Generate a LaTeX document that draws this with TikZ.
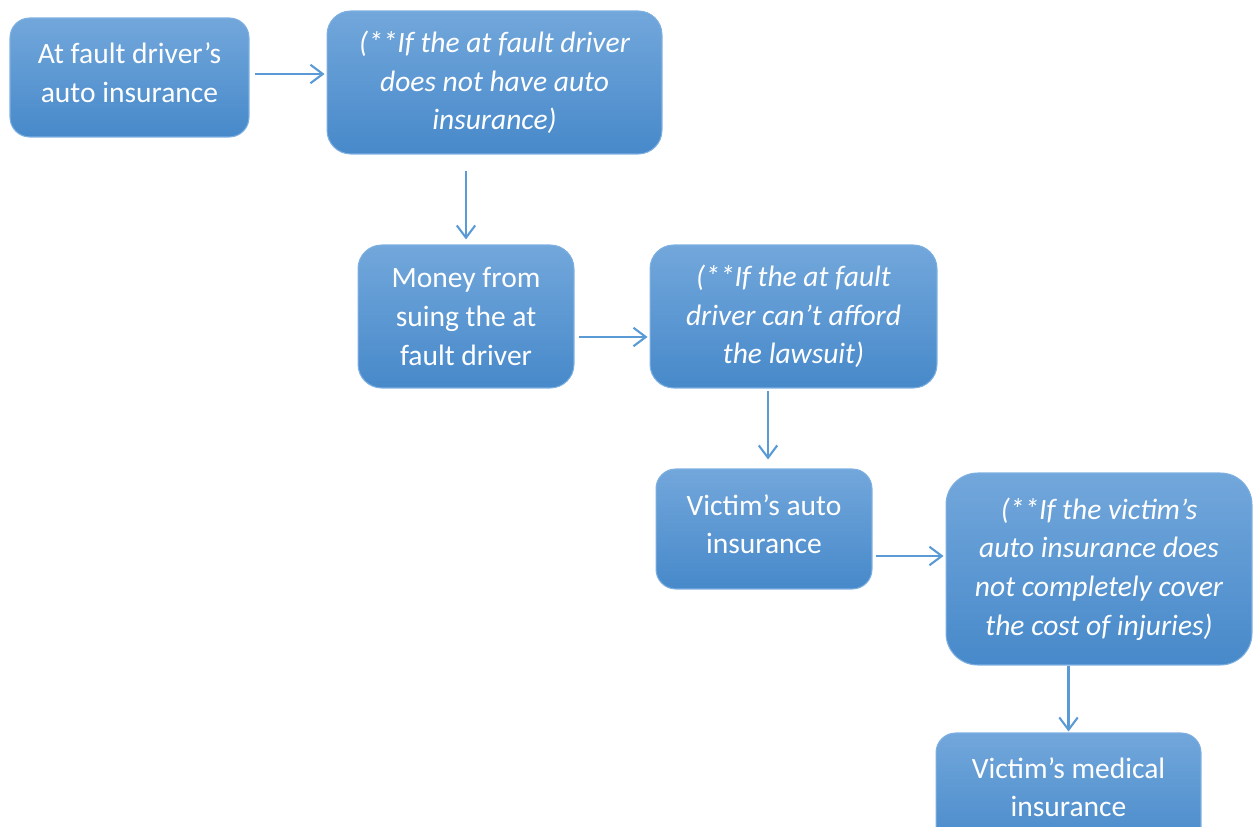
\documentclass[tikz,border=0pt]{standalone}
\usepackage{fontspec}
\setmainfont{Carlito}
\usetikzlibrary{arrows.meta}
\definecolor{boxtop}{RGB}{114,167,219}
\definecolor{boxmid}{RGB}{84,151,215}
\definecolor{boxbot}{RGB}{71,137,202}
\definecolor{boxedge}{RGB}{125,175,224}
\definecolor{arrowblue}{RGB}{91,155,213}
\begin{document}
\begin{tikzpicture}[x=0.02cm,y=-0.02cm,
	box/.style={draw=boxedge,line width=0.6pt,rounded corners=11.2pt,top color=boxtop,middle color=boxmid,bottom color=boxbot,text=white,align=center,inner sep=0pt,font=\fontsize{16.8pt}{22pt}\selectfont},
	ifbox/.style={box,font=\fontsize{16.8pt}{22pt}\selectfont\itshape},
	twoline/.style={text depth=0.2cm},
	arr/.style={draw=arrowblue,line width=1.2pt,-{Straight Barb[length=7pt,width=10.5pt]}}]
	\useasboundingbox (0,0) rectangle (1253,827);
	\node[box,twoline,minimum width=4.78cm,minimum height=2.38cm] (fault) at (129.5,77.5) {At fault driver’s\\auto insurance};
	\node[ifbox,rounded corners=13.5pt,minimum width=6.70cm,minimum height=2.86cm] (noins) at (494.5,82.5) {(**If the at fault driver\\does not have auto\\insurance)};
	\node[box,rounded corners=13.5pt,minimum width=4.32cm,minimum height=2.86cm] (suing) at (466,316.5) {Money from\\suing the at\\fault driver};
	\node[ifbox,rounded corners=13.5pt,minimum width=5.74cm,minimum height=2.86cm] (afford) at (793.5,316.5) {(**If the at fault\\driver can’t afford\\the lawsuit)};
	\node[box,twoline,minimum width=4.32cm,minimum height=2.40cm] (victim) at (764,529) {Victim’s auto\\insurance};
	\node[ifbox,rounded corners=18pt,minimum width=6.12cm,minimum height=3.84cm] (cover) at (1099,569) {(**If the victim’s\\auto insurance does\\not completely cover\\the cost of injuries)};
	\node[box,twoline,minimum width=5.30cm,minimum height=2.36cm] (medical) at (1068.5,792) {Victim’s medical\\insurance};
	% arrows
	\draw[arr,shorten <=0.1cm,shorten >=0.04cm] ([yshift=0.07cm]fault.east) -- ([yshift=0.07cm]fault.east -| noins.west);
	\draw[arr,shorten <=0.32cm,shorten >=0.1cm] (suing.north |- noins.south) -- (suing.north);
	\draw[arr,shorten <=0.08cm,shorten >=0.04cm] ([yshift=-0.41cm]suing.east) -- ([yshift=-0.41cm]suing.east -| afford.west);
	\draw[arr,shorten <=0.04cm,shorten >=0.18cm] ([xshift=0.08cm]victim.north |- afford.south) -- ([xshift=0.08cm]victim.north);
	\draw[arr,shorten <=0.06cm,shorten >=0.04cm] ([yshift=-0.54cm]victim.east) -- ([yshift=-0.54cm]victim.east -| cover.west);
	\draw[arr,shorten >=0.02cm] (medical.north |- cover.south) -- (medical.north);
\end{tikzpicture}
\end{document}
